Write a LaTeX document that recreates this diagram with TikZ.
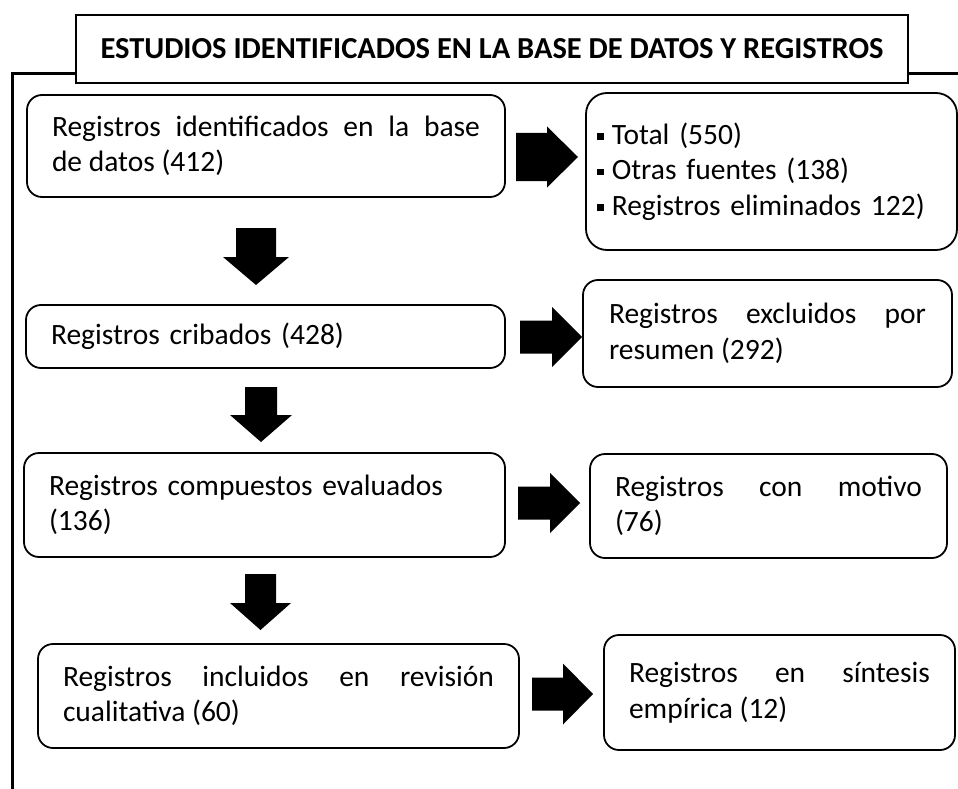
\documentclass[tikz,border=0pt]{standalone}
\usepackage{fontspec}
\setmainfont{Carlito}
\hyphenpenalty=10000
\exhyphenpenalty=10000
\newcommand\mybody{\fontsize{29.5}{35.5}\selectfont}
\newcommand\mytitle{\fontsize{30.5}{36}\selectfont\bfseries}
\newcommand\blt{\rule[0.15em]{0.23em}{0.23em}\hspace{0.27em}}
% right block arrow: tail x, head-base x, tip x, centre y, shaft half, head half
\newcommand\rblk[6]{\fill[blk] (#1,{#4-#5}) -- (#2,{#4-#5}) -- (#2,{#4-#6}) -- (#3,#4) -- (#2,{#4+#6}) -- (#2,{#4+#5}) -- (#1,{#4+#5}) -- cycle;}
% down block arrow: tail y, head-base y, tip y, centre x, shaft half, head half
\newcommand\dblk[6]{\fill[blk] ({#4-#5},#1) -- ({#4+#5},#1) -- ({#4+#5},#2) -- ({#4+#6},#2) -- (#4,#3) -- ({#4-#6},#2) -- ({#4-#5},#2) -- cycle;}
\tikzset{
  box/.style={draw=black, line width=1.8pt, rounded corners=15pt, inner xsep=25pt, inner ysep=0pt, align=justify, font=\mybody, fill=white},
  blk/.style={fill=black},
  frame/.style={line width=3pt},
  titlebox/.style={draw=black, line width=2pt, fill=white, inner sep=0pt, minimum width=832pt, minimum height=68pt, font=\mytitle}
}
\begin{document}
\begin{tikzpicture}[x=1pt, y=-1pt]
\useasboundingbox (0,0) rectangle (958,789);
% outer frame
\coordinate (fr) at (958,74);
\coordinate (fl) at (12,74);
\coordinate (fb) at (12,789);
\draw[frame] (fr) -- (fl) -- (fb);
% title
\node[titlebox] (title) at (492,49) {ESTUDIOS IDENTIFICADOS EN LA BASE DE DATOS Y REGISTROS};
% left column
\node[box, text width=428pt, minimum height=102pt] (b1) at (266,146) {Registros identificados en la base\linebreak de datos (412)};
\node[box, text width=429pt, minimum height=63pt, align=left] (b2) at (265.5,336.5) {Registros cribados (428)};
\node[box, text width=431pt, minimum height=104pt, align=left] (b3) at (264.5,505) {Registros compuestos evaluados\\(136)};
\node[box, text width=431pt, minimum height=104pt] (b4) at (278.5,696) {Registros incluidos en revisión\linebreak cualitativa (60)};
% right column
\node[box, rounded corners=21pt, inner xsep=11pt, text width=349pt, minimum height=157pt, align=left] (r1) at (771.5,171.5) {\blt Total (550)\\\blt Otras fuentes (138)\\\blt Registros eliminados 122)};
\node[box, inner xsep=26pt, text width=317pt, minimum height=107pt] (r2) at (767.5,333.5) {Registros excluidos por\linebreak resumen (292)};
\node[box, text width=307pt, minimum height=104pt] (r3) at (768.5,506) {Registros con motivo\linebreak (76)};
\node[box, text width=301pt, minimum height=115pt] (r4) at (779.5,692.5) {Registros en síntesis\linebreak empírica (12)};
% block arrows
\rblk{516}{547}{578}{157}{24}{30.5}
\rblk{520}{552}{582}{337}{16.5}{30}
\rblk{518}{550}{580}{503}{16.5}{30}
\rblk{532}{563}{593}{694}{16.5}{30.5}
\dblk{228}{257}{285}{256}{20}{33}
\dblk{387}{415}{442}{261}{16}{31}
\dblk{574}{603}{630}{260.5}{15.5}{30.5}
\end{tikzpicture}
\end{document}
